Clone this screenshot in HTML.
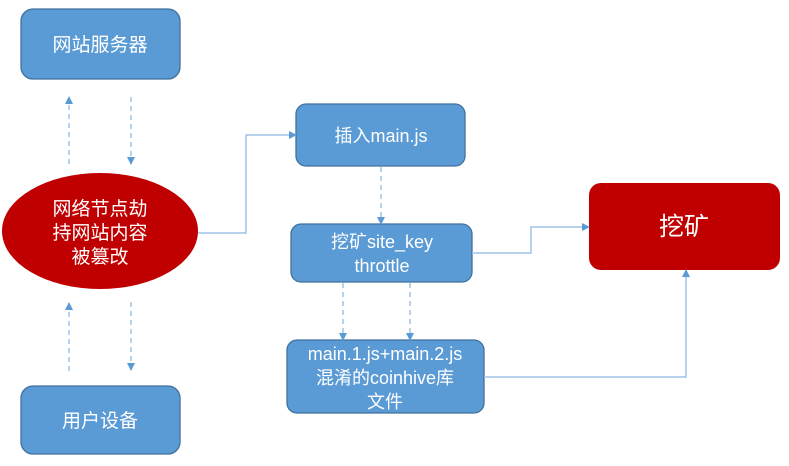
<!DOCTYPE html>
<html><head><meta charset="utf-8"><style>
html,body{margin:0;padding:0;background:#fff;width:789px;height:466px;overflow:hidden}
text{font-family:"Liberation Sans","Noto Sans CJK SC",sans-serif;fill:#fff;text-anchor:middle}
</style></head><body>
<svg width="789" height="466" viewBox="0 0 789 466" xmlns="http://www.w3.org/2000/svg">
<defs>
<marker id="a" markerWidth="8" markerHeight="8" refX="7" refY="4" orient="auto" markerUnits="userSpaceOnUse"><path d="M0,0 L8,4 L0,8 z" fill="#5b9bd5"/></marker>
</defs>
<g fill="#5b9bd5" stroke="#41719c" stroke-width="1.3">
<rect x="21" y="9" width="159" height="70" rx="12"/>
<rect x="21" y="386" width="159" height="68" rx="12"/>
<rect x="296" y="104" width="169" height="62" rx="10"/>
<rect x="291" y="224" width="181" height="58" rx="10"/>
<rect x="287" y="340" width="197" height="73" rx="10"/>
</g>
<rect x="589" y="183" width="191" height="87" rx="12" fill="#c00000"/>
<ellipse cx="100" cy="231" rx="98" ry="58" fill="#c00000"/>
<g stroke="#9dc3e6" stroke-width="1.5" fill="none">
<g stroke-dasharray="5,4" marker-end="url(#a)">
<line x1="69" y1="164" x2="69" y2="97"/>
<line x1="131" y1="97" x2="131" y2="164"/>
<line x1="69" y1="371" x2="69" y2="303"/>
<line x1="131" y1="302" x2="131" y2="370"/>
<line x1="381" y1="167" x2="381" y2="224"/>
<line x1="343" y1="283" x2="343" y2="340"/>
<line x1="410" y1="283" x2="410" y2="340"/>
</g>
<g marker-end="url(#a)">
<polyline points="198,233 246,233 246,135 296,135"/>
<polyline points="472,253 531,253 531,227 589,227"/>
<polyline points="484,377 686,377 686,270"/>
</g>
</g>
<text x="100" y="51" font-size="19">网站服务器</text>
<text x="100" y="427" font-size="19">用户设备</text>
<text x="100" y="215" font-size="19">网络节点劫</text>
<text x="100" y="239" font-size="19">持网站内容</text>
<text x="100" y="263" font-size="19">被篡改</text>
<text x="381" y="142" font-size="18">插入main.js</text>
<text x="382" y="248" font-size="18">挖矿site_key</text>
<text x="382" y="272" font-size="18">throttle</text>
<text x="385" y="360" font-size="18">main.1.js+main.2.js</text>
<text x="385" y="384" font-size="18">混淆的coinhive库</text>
<text x="385" y="408" font-size="18">文件</text>
<text x="684" y="235" font-size="25">挖矿</text>
</svg>
</body></html>
